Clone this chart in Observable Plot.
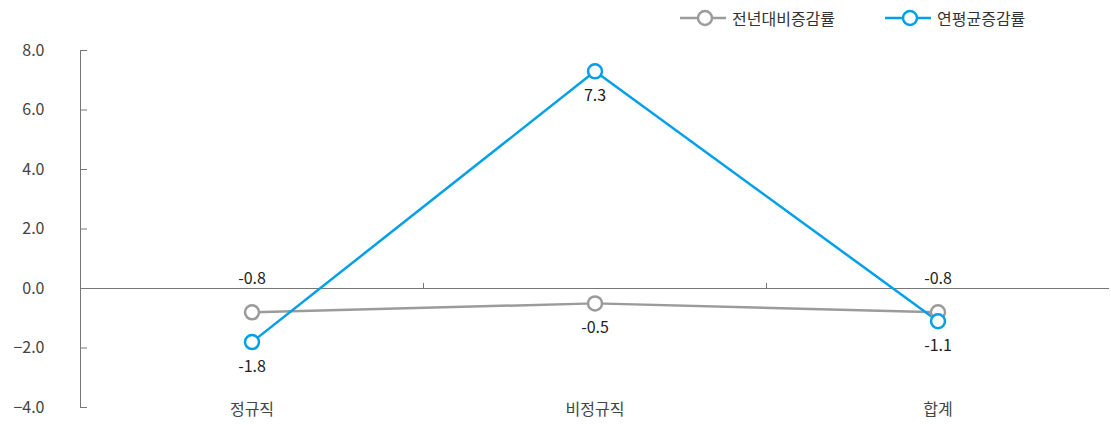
<!DOCTYPE html>
<html><head><meta charset="utf-8">
<script src="https://cdn.jsdelivr.net/npm/d3@7"></script>
<script src="https://cdn.jsdelivr.net/npm/@observablehq/plot@0.6"></script>
<style>
body{margin:0;background:#fff;font-family:"Noto Sans CJK KR","Noto Sans",sans-serif;}
#legend{position:relative;height:35px;width:1111px;}
.li{position:absolute;top:6px;display:flex;align-items:center;font-size:16px;color:#333;}
.li svg{margin-right:6px;}
</style></head>
<body>
<div id="legend"></div>
<div id="chart"></div>
<script>
const categories = ["정규직", "비정규직", "합계"];
const seriesNames = ["전년대비증감률", "연평균증감률"];
const yoy = [-0.8, -0.5, -0.8];
const annualAvg = [-1.8, 7.3, -1.1];
const yTicks = [-4, -2, 0, 2, 4, 6, 8];
const colors = ["#9b9b9b", "#00a0e9"];

const data = [];
categories.forEach((c, i) => {
  data.push({cat: c, i, series: seriesNames[0], value: yoy[i]});
  data.push({cat: c, i, series: seriesNames[1], value: annualAvg[i]});
});
const gray = data.filter(d => d.series === seriesNames[0]);
const blue = data.filter(d => d.series === seriesNames[1]);

// legend
const leg = document.getElementById("legend");
[[seriesNames[0], colors[0], 680], [seriesNames[1], colors[1], 885]].forEach(([n, c, x]) => {
  const el = document.createElement("div");
  el.className = "li";
  el.style.left = x + "px";
  el.innerHTML = `<svg width="46" height="20"><line x1="0" x2="46" y1="10" y2="10" stroke="${c}" stroke-width="2.5"/><circle cx="25" cy="10" r="7" fill="#fff" stroke="${c}" stroke-width="2.5"/></svg><span>${n}</span>`;
  leg.appendChild(el);
});

const fmt = v => v.toFixed(1);
const chart = Plot.plot({
  width: 1111,
  height: 390,
  marginLeft: 80,
  marginRight: 2,
  marginTop: 15,
  marginBottom: 18,
  style: {fontFamily: '"Noto Sans CJK KR","Noto Sans",sans-serif', fontSize: "16px", background: "#fff"},
  x: {domain: [-0.5, 2.5], axis: null},
  y: {domain: [-4, 8], axis: null},
  marks: [
    Plot.ruleX([-0.5], {y1: -4, y2: 8, stroke: "#777", strokeWidth: 1}),
    Plot.tickY(yTicks, {y: d => d, insetRight: 1022, stroke: "#777"}),
    Plot.ruleY([0], {stroke: "#777", strokeWidth: 1}),
    Plot.ruleX([0.5, 1.5], {y1: 0, y2: 0.17, stroke: "#777"}),
    Plot.text(yTicks, {x: -0.5, y: d => d, text: d => d.toFixed(1).replace("-", "−"), textAnchor: "end", dx: -36, fill: "#444", fontSize: 16}),
    Plot.text(categories, {x: (d, i) => i, y: -4, text: d => d, dy: 2, fill: "#444", fontSize: 16}),
    Plot.line(gray, {x: "i", y: "value", stroke: colors[0], strokeWidth: 2.5}),
    Plot.line(blue, {x: "i", y: "value", stroke: colors[1], strokeWidth: 2.5}),
    Plot.dot(gray, {x: "i", y: "value", r: 7, fill: "#fff", stroke: colors[0], strokeWidth: 2.5}),
    Plot.dot(blue, {x: "i", y: "value", r: 7, fill: "#fff", stroke: colors[1], strokeWidth: 2.5}),
    Plot.text(gray.filter(d => d.i !== 1), {x: "i", y: "value", text: d => fmt(d.value), dy: -33, fill: "#222", fontSize: 16}),
    Plot.text(gray.filter(d => d.i === 1), {x: "i", y: "value", text: d => fmt(d.value), dy: 24, fill: "#222", fontSize: 16}),
    Plot.text(blue, {x: "i", y: "value", text: d => fmt(d.value), dy: 25, fill: "#222", fontSize: 16})
  ]
});
document.getElementById("chart").appendChild(chart);
</script>
</body></html>
